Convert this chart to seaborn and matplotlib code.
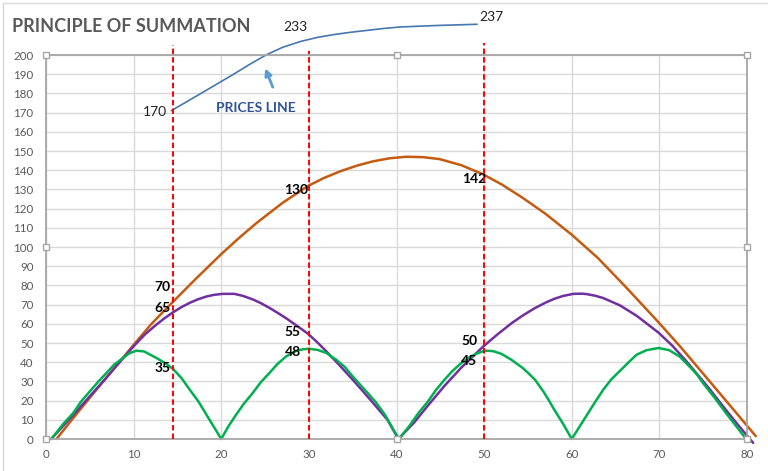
import matplotlib.pyplot as plt
import numpy as np
import pandas as pd
import seaborn as sns

# values
orange_x = [1.2, 3.0, 5.0, 7.5, 10.0, 12.0, 14.5, 17.0, 20.0, 22.0, 24.0, 27.0, 29.9, 31.7, 33.5, 35.5, 37.3,
            39.2, 41.1, 43.0, 44.9, 47.4, 49.9, 52.0, 54.4, 57.0, 60.0, 63.0, 66.2, 69.9, 72.5, 75.0, 78.0, 81.0]
orange_y = [0, 10.3, 21.5, 35.3, 49.0, 59.8, 71.5, 83.0, 96.3, 104.6, 112.4, 123.0, 131.8, 135.9, 139.3, 142.4,
            144.6, 146.2, 147.0, 146.8, 145.8, 142.6, 137.8, 132.6, 125.6, 117.3, 106.4, 94.2, 79.0, 60.8, 47.5,
            34.0, 17.8, 1.5]

purple_x = [0.6, 3.0, 6.9, 8.5, 10.1, 11.3, 12.6, 13.5, 14.5, 15.5, 16.4, 17.3, 18.3, 19.2, 20.2, 21.5, 22.5,
            23.6, 24.5, 25.5, 26.4, 27.4, 28.6, 29.9, 31.0, 32.0, 33.5, 35.0, 36.3, 37.7, 39.0, 40.2,
            42.0, 43.6, 45.5, 47.4, 49.9, 51.5, 53.1, 54.4, 55.8, 57.0, 58.0, 59.0, 60.2, 61.2, 61.8, 62.7,
            63.6, 65.5, 67.4, 69.9, 71.5, 73.1, 75.7, 77.2, 78.8, 80.7]
purple_y = [0, 12.0, 32.0, 40.5, 48.8, 54.5, 59.6, 62.8, 66.0, 68.8, 70.9, 72.7, 74.2, 75.1, 75.6, 75.6, 74.5,
            72.7, 70.8, 68.3, 65.8, 62.9, 59.1, 54.8, 50.2, 45.6, 38.4, 30.9, 24.2, 16.8, 9.8, 0,
            8.5, 17.5, 27.8, 37.2, 48.2, 54.4, 60.2, 64.3, 68.2, 71.0, 73.0, 74.5, 75.6, 75.7, 75.4, 74.6,
            73.4, 69.6, 64.2, 55.4, 48.5, 40.4, 26.2, 17.4, 8.3, -2.0]

green_x = [0.6, 2.0, 3.1, 4.0, 5.0, 6.0, 6.9, 7.8, 8.8, 9.5, 10.3, 11.2, 12.6, 13.5, 14.5, 15.5, 16.4, 17.4,
           18.3, 19.2, 20.0,
           20.8, 21.7, 22.6, 23.6, 24.5, 25.5, 26.4, 27.4, 28.5, 29.3, 30.0, 31.0, 32.0, 33.2, 34.1, 35.0,
           36.0, 36.8, 37.7, 38.7, 39.5, 40.3,
           41.5, 42.5, 43.6, 44.5, 45.5, 46.4, 47.4, 48.3, 49.2, 50.1, 51.0, 52.0, 53.1, 54.4, 55.0, 55.8,
           56.8, 57.4, 58.0, 59.0, 60.0,
           60.9, 61.8, 62.7, 63.6, 64.5, 65.5, 66.5, 67.4, 68.5, 69.9, 71.1, 72.3, 73.6, 74.3, 75.0, 76.3,
           77.6, 78.8, 79.9]
green_y = [0, 8.0, 13.5, 19.5, 24.8, 30.0, 34.4, 38.8, 42.2, 44.6, 46.0, 45.6, 42.2, 39.8, 36.5, 31.5, 25.7,
           19.5, 12.7, 6.0, 0,
           6.5, 12.7, 18.5, 24.0, 29.5, 34.4, 39.0, 43.0, 45.8, 46.7, 47.0, 46.4, 44.8, 41.0, 37.5, 32.6,
           27.5, 23.5, 18.8, 12.5, 6.0, 0,
           7.0, 13.5, 19.6, 25.5, 31.0, 35.5, 39.6, 42.5, 44.6, 46.0, 45.8, 44.3, 41.3, 37.0, 34.5, 30.9,
           24.5, 20.0, 15.3, 8.0, 0,
           6.5, 13.0, 19.5, 25.7, 31.0, 35.5, 40.0, 43.9, 46.2, 47.4, 46.3, 43.0, 37.0, 33.5, 29.0, 21.5,
           13.5, 6.5, 0]

prices_x = [14.3, 17.5, 19.4, 21.3, 23.2, 25.1, 27.0, 29.0, 31.0, 32.8, 34.7, 36.6, 38.5, 40.4, 44.8, 49.2]
prices_y = [171, 179.5, 184.6, 189.7, 195, 200, 204, 207, 209.2, 210.6, 211.8, 212.8, 213.8, 214.6, 215.4, 216]
price_labels = ["170", "233", "237"]

cut_x = [14.5, 30, 50]
orange_labels = ["70", "130", "142"]
purple_labels = ["65", "55", "50"]
green_labels = ["35", "48", "45"]

sns.set_theme(style="whitegrid")
plt.rcParams['font.family'] = ['Lato', 'DejaVu Sans']

fig = plt.figure(figsize=(7.68, 4.71), dpi=100)
ax = fig.add_axes([46 / 768, 32 / 471, 701 / 768, 384 / 471])

curves = pd.concat([
    pd.DataFrame({'x': orange_x, 'y': orange_y, 'curve': 'orange'}),
    pd.DataFrame({'x': purple_x, 'y': purple_y, 'curve': 'purple'}),
    pd.DataFrame({'x': green_x, 'y': green_y, 'curve': 'green'}),
])
colors = {'orange': '#C55A11', 'purple': '#7030A0', 'green': '#00B050'}
sns.lineplot(data=curves, x='x', y='y', hue='curve', palette=colors, sort=False,
             estimator=None, legend=False, linewidth=1.8, ax=ax)
sns.lineplot(x=prices_x, y=prices_y, color='#4677AE', linewidth=1.2, sort=False,
             estimator=None, ax=ax)
for line in ax.lines:
    line.set_clip_on(False)
    line.set_solid_joinstyle('round')

# red cut lines
ax.vlines(cut_x, 0, [205, 202, 206], colors='#FF0000', linestyles=(0, (2.8, 1.6)),
          linewidth=1.4, clip_on=False, zorder=4)

ax.set_xlim(0, 80)
ax.set_ylim(0, 200)
ax.set_xticks(range(0, 81, 10))
ax.set_yticks(range(0, 201, 10))
ax.set_xlabel('')
ax.set_ylabel('')
ax.grid(color='#D9D9D9', linewidth=1)
ax.tick_params(colors='#595959', labelsize=8.3, length=0)
ax.tick_params(axis='y', pad=9)
ax.tick_params(axis='x', pad=7)
for s in ax.spines.values():
    s.set_color('#A6A6A6')
    s.set_linewidth(1.3)

# bold value labels at the cut lines
lab_pos = [(14.2, 79.2), (29.97, 129.8), (50.2, 135.6)]
for (x, y), t in zip(lab_pos, orange_labels):
    ax.text(x, y, t, ha='right', va='center', fontsize=10, fontweight='bold', color='black')
lab_pos = [(14.2, 68.2), (29.05, 55.7), (49.2, 50.8)]
for (x, y), t in zip(lab_pos, purple_labels):
    ax.text(x, y, t, ha='right', va='center', fontsize=10, fontweight='bold', color='black')
lab_pos = [(14.2, 37.0), (29.05, 45.1), (49.2, 40.4)]
for (x, y), t in zip(lab_pos, green_labels):
    ax.text(x, y, t, ha='right', va='center', fontsize=10, fontweight='bold', color='black')

# prices labels
ax.text(13.8, 170.5, price_labels[0], ha='right', va='center', fontsize=10, color='#222222', clip_on=False)
ax.text(28.5, 214.5, price_labels[1], ha='center', va='center', fontsize=10, color='#222222', clip_on=False)
ax.text(49.5, 220, price_labels[2], ha='left', va='center', fontsize=10, color='#222222', clip_on=False)

ax.text(23.9, 172.6, 'PRICES LINE', ha='center', va='center', fontsize=10, fontweight='bold', color='#2F5597')
ax.annotate('', xy=(24.9, 194.4), xytext=(26.0, 181.9),
            arrowprops=dict(arrowstyle='-|>', color='#5B9BD5', lw=2, mutation_scale=10),
            annotation_clip=False)

fig.text(12 / 768, 1 - 26 / 471, 'PRINCIPLE OF SUMMATION', ha='left', va='center',
         fontsize=13.0, fontweight='bold', color='#595959')

# excel selection handles
ax.plot([0, 0.5, 1, 0, 1, 0, 0.5, 1], [1, 1, 1, 0.5, 0.5, 0, 0, 0], 's', transform=ax.transAxes,
        ms=5, mfc='white', mec='#A6A6A6', mew=1, clip_on=False, zorder=6)

# chart area border
fig.add_artist(plt.Line2D([3 / 768, 1], [1 - 3 / 471, 1 - 3 / 471], color='#D9D9D9', lw=1))
fig.add_artist(plt.Line2D([3 / 768, 3 / 768], [0, 1 - 3 / 471], color='#D9D9D9', lw=1))

fig.savefig('out.png', dpi=100)
